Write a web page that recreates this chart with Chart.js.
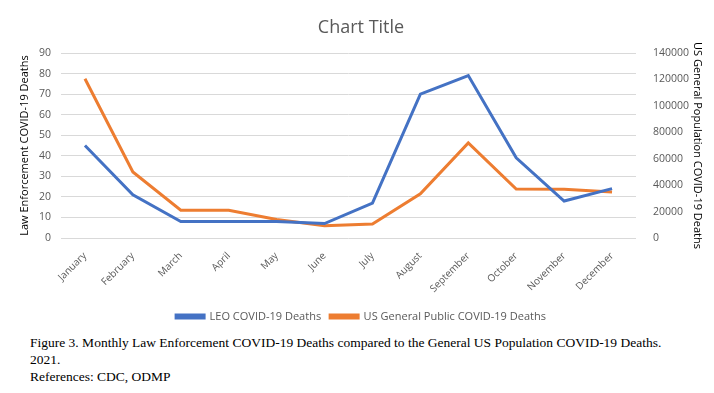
<!DOCTYPE html>
<html>
<head>
<meta charset="utf-8">
<script src="https://cdn.jsdelivr.net/npm/chart.js@4.4.1/dist/chart.umd.min.js"></script>
<style>
  html, body { margin: 0; padding: 0; background: #fff; }
  #wrap { position: relative; width: 714px; height: 332px; }
  #caption {
    font-family: "Liberation Serif", "Times New Roman", serif;
    font-size: 13.5px;
    line-height: 17px;
    color: #000;
    margin: 2px 0 0 30px;
  }
</style>
</head>
<body>
<div id="wrap"><canvas id="chart" width="714" height="332"></canvas></div>
<div id="caption">
  Figure 3. Monthly Law Enforcement COVID-19 Deaths compared to the General US Population COVID-19 Deaths.<br>
  2021.<br>
  References: CDC, ODMP
</div>
<script>
// data
const months = ["January", "February", "March", "April", "May", "June",
  "July", "August", "September", "October", "November", "December"];
const leoDeaths = [45, 21, 8, 8, 8, 7, 17, 70, 79, 39, 18, 24];
const publicDeaths = [120500, 50000, 21000, 21000, 14000, 9300, 10600, 33500, 72000, 37000, 36800, 34800];

const grey = "#595959";
const uiFont = "'Open Sans', 'Liberation Sans', sans-serif";

const ctx = document.getElementById("chart").getContext("2d");
new Chart(ctx, {
  type: "line",
  data: {
    labels: months,
    datasets: [
      {
        label: "LEO COVID-19 Deaths",
        data: leoDeaths,
        borderColor: "#4472C4",
        backgroundColor: "#4472C4",
        borderWidth: 3,
        pointRadius: 0,
        tension: 0,
        yAxisID: "y",
      },
      {
        label: "US General Public COVID-19 Deaths",
        data: publicDeaths,
        borderColor: "#ED7D31",
        backgroundColor: "#ED7D31",
        borderWidth: 3,
        pointRadius: 0,
        tension: 0,
        yAxisID: "y2",
      },
    ],
  },
  options: {
    responsive: false,
    animation: false,
    layout: { padding: { top: 17, left: 18, right: 10, bottom: 0 } },
    scales: {
      x: {
        offset: true,
        grid: { display: false },
        border: { display: false },
        ticks: {
          color: grey,
          font: { family: uiFont, size: 10 },
          minRotation: 45,
          maxRotation: 45,
          padding: 4,
        },
        afterFit: (scale) => { scale.height = 64; },
      },
      y: {
        position: "left",
        min: 0,
        max: 90,
        ticks: { stepSize: 10, color: grey, font: { family: uiFont, size: 10.5 }, padding: 10 },
        grid: { color: "#d9d9d9", drawTicks: false },
        border: { display: false },
        title: {
          display: true,
          text: "Law Enforcement COVID-19 Deaths",
          color: "#000",
          font: { family: uiFont, size: 11 },
          padding: 0,
        },
        afterFit: (scale) => { scale.width = 43; },
      },
      y2: {
        position: "right",
        min: 0,
        max: 140000,
        ticks: {
          stepSize: 20000,
          color: grey,
          font: { family: uiFont, size: 10.5 },
          padding: 9,
          callback: (v) => String(v),
        },
        grid: { display: false },
        border: { display: false },
        title: {
          display: true,
          text: "US General Population COVID-19 Deaths",
          color: "#000",
          font: { family: uiFont, size: 11 },
          padding: 0,
        },
        afterFit: (scale) => { scale.width = 68; },
      },
    },
    plugins: {
      title: {
        display: true,
        text: "Chart Title",
        color: grey,
        font: { family: uiFont, size: 18, weight: "normal" },
        padding: { top: 0, bottom: 14.4 },
      },
      legend: {
        position: "bottom",
        labels: {
          color: grey,
          font: { family: uiFont, size: 11 },
          boxWidth: 28,
          boxHeight: 3,
          padding: 9,
        },
      },
      tooltip: { enabled: false },
    },
  },
});
</script>
</body>
</html>
